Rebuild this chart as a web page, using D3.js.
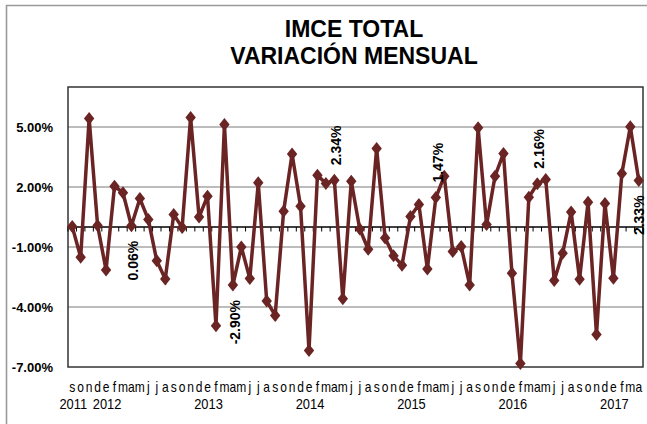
<!DOCTYPE html>
<html>
<head>
<meta charset="utf-8">
<script src="https://cdn.jsdelivr.net/npm/d3@7"></script>
<style>
html,body{margin:0;padding:0;background:#fff;}
svg{display:block;}
</style>
</head>
<body>
<svg id="chart" width="647" height="424"></svg>
<script>
// ---- data ----
const titleLines = ["IMCE TOTAL", "VARIACIÓN MENSUAL"];
const months = ["s","o","n","d",
  "e","f","m","a","m","j","j","a","s","o","n","d",
  "e","f","m","a","m","j","j","a","s","o","n","d",
  "e","f","m","a","m","j","j","a","s","o","n","d",
  "e","f","m","a","m","j","j","a","s","o","n","d",
  "e","f","m","a","m","j","j","a","s","o","n","d",
  "e","f","m","a"];
const years = ["2011","2012","2013","2014","2015","2016","2017"];
const yearStartIndex = [0, 4, 16, 28, 40, 52, 64];
const values = [0.02, -1.51, 5.43, 0.07, -2.15, 2.04, 1.71, 0.06, 1.42, 0.37,
  -1.69, -2.60, 0.62, -0.02, 5.48, 0.50, 1.54, -4.94, 5.12, -2.90,
  -1.00, -2.58, 2.21, -3.70, -4.42, 0.79, 3.65, 1.04, -6.17, 2.59,
  2.18, 2.34, -3.59, 2.29, -0.10, -1.11, 3.93, -0.55, -1.44, -1.91,
  0.53, 1.12, -2.10, 1.47, 2.54, -1.22, -0.97, -2.90, 4.96, 0.12,
  2.54, 3.68, -2.31, -6.83, 1.49, 2.16, 2.38, -2.68, -1.31, 0.75,
  -2.61, 1.24, -5.38, 1.17, -2.56, 2.68, 5.01, 2.33];
const yTicks = [-7, -4, -1, 2, 5];
const labelIndex = [7, 19, 31, 43, 55, 67];
const labelSide = ["below", "below", "above", "above", "above", "below"];

// ---- layout ----
const svg = d3.select("#chart");
const plot = {left: 68, right: 643, top: 87, bottom: 367};
const color = "#6B2424";
const sans = "'Liberation Sans',Arial,sans-serif";
const pct = d => d3.format(".2f")(d).replace("\u2212", "-") + "%";

// outer chart border
svg.append("path")
  .attr("d", "M6.5,430 L6.5,5.5 L660,5.5")
  .attr("fill", "none").attr("stroke", "#9a9a9a").attr("stroke-width", 1.6);

// title
const title = svg.append("text")
  .attr("x", 354).attr("text-anchor", "middle")
  .attr("font-family", sans).attr("font-weight", "bold").attr("font-size", 23)
  .attr("fill", "#000");
titleLines.forEach((t, i) => {
  title.append("tspan").attr("x", 354).attr("y", 37 + i * 27).text(t);
});

const x = d3.scaleBand().domain(d3.range(values.length)).range([plot.left, plot.right]).padding(0);
const y = d3.scaleLinear().domain([-7, 7]).range([plot.bottom, plot.top]);
const cx = i => x(i) + x.bandwidth() / 2;

// gridlines
svg.append("g").selectAll("line").data(yTicks.filter(t => t !== -7)).join("line")
  .attr("x1", plot.left).attr("x2", plot.right)
  .attr("y1", d => y(d)).attr("y2", d => y(d))
  .attr("stroke", "#a6a6a6").attr("stroke-width", 1.3);

// y axis labels
const yAxis = d3.axisLeft(y).tickValues(yTicks).tickSize(0).tickPadding(0)
  .tickFormat(pct);
const gy = svg.append("g").attr("transform", `translate(53,0)`).call(yAxis);
gy.select(".domain").remove();
gy.selectAll("text").attr("font-family", sans).attr("font-weight", "bold")
  .attr("font-size", 13).attr("fill", "#000");

// plot border
svg.append("rect")
  .attr("x", plot.left).attr("y", plot.top)
  .attr("width", plot.right - plot.left).attr("height", plot.bottom - plot.top)
  .attr("fill", "none").attr("stroke", "#333").attr("stroke-width", 1.5);

// zero axis with ticks at category boundaries
svg.append("line")
  .attr("x1", plot.left).attr("x2", plot.right).attr("y1", y(0)).attr("y2", y(0))
  .attr("stroke", "#000").attr("stroke-width", 1.5);
svg.append("g").selectAll("line").data(d3.range(values.length + 1)).join("line")
  .attr("x1", i => plot.left + i * x.bandwidth()).attr("x2", i => plot.left + i * x.bandwidth())
  .attr("y1", y(0)).attr("y2", y(0) + 4.5)
  .attr("stroke", "#000").attr("stroke-width", 1);

// month letters (slightly condensed)
svg.append("g").selectAll("text").data(months).join("text")
  .attr("transform", (d, i) => `translate(${cx(i)},392) scale(0.86,1)`)
  .attr("text-anchor", "middle")
  .attr("font-family", sans).attr("font-size", 14).attr("fill", "#000")
  .text(d => d);

// year labels
svg.append("g").selectAll("text").data(years).join("text")
  .attr("transform", (d, i) => `translate(${cx(yearStartIndex[i]) + 1},409) scale(0.92,1)`)
  .attr("text-anchor", "middle")
  .attr("font-family", sans).attr("font-size", 14).attr("fill", "#000")
  .text(d => d);

// line
const line = d3.line().x((d, i) => cx(i)).y(d => y(d));
svg.append("path").datum(values)
  .attr("d", line).attr("fill", "none")
  .attr("stroke", color).attr("stroke-width", 3.5).attr("stroke-linejoin", "miter");

// diamond markers
const diamond = "M0,-6.5 L5.2,0 L0,6.5 L-5.2,0 Z";
svg.append("g").selectAll("path").data(values).join("path")
  .attr("transform", (d, i) => `translate(${cx(i)},${y(d)})`)
  .attr("d", diamond).attr("fill", color);

// data labels (rotated)
svg.append("g").selectAll("text").data(labelIndex).join("text")
  .attr("transform", (idx, k) => {
    const off = labelSide[k] === "above" ? -15 : 15;
    const lx = Math.min(cx(idx) + 2, 639);
    return `translate(${lx},${y(values[idx]) + off}) rotate(-90)`;
  })
  .attr("text-anchor", (idx, k) => labelSide[k] === "above" ? "start" : "end")
  .attr("dominant-baseline", "central")
  .attr("font-family", sans).attr("font-weight", "bold").attr("font-size", 14)
  .attr("fill", "#000")
  .text(idx => pct(values[idx]));
</script>
</body>
</html>
